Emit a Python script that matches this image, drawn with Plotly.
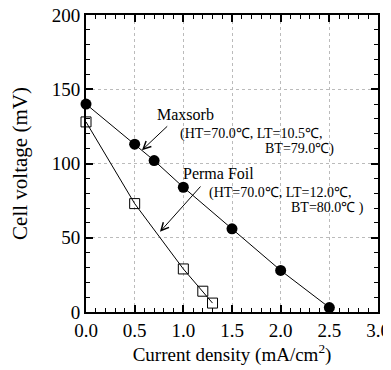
import plotly.graph_objects as go

maxsorb_x = [0.0, 0.5, 0.7, 1.0, 1.5, 2.0, 2.5]
maxsorb_y = [140, 113, 102, 84, 56, 28, 3]
perma_x = [0.0, 0.5, 1.0, 1.2, 1.3]
perma_y = [128, 73, 29, 14, 6]

x_ticks = [0.0, 0.5, 1.0, 1.5, 2.0, 2.5, 3.0]
x_ticklabels = ["0.0", "0.5", "1.0", "1.5", "2.0", "2.5", "3.0"]
y_ticks = [0, 50, 100, 150, 200]

FONT = "'Liberation Serif', 'Times New Roman', Times, serif"

fig = go.Figure()
fig.add_trace(go.Scatter(x=maxsorb_x, y=maxsorb_y, mode="lines+markers",
                         line=dict(color="black", width=1),
                         marker=dict(symbol="circle", size=11, color="black"),
                         name="Maxsorb", cliponaxis=False))
fig.add_trace(go.Scatter(x=perma_x, y=perma_y, mode="lines+markers",
                         line=dict(color="black", width=1),
                         marker=dict(symbol="square-open", size=10, color="black", line=dict(width=1)),
                         name="Perma Foil", cliponaxis=False))

axis_common = dict(showline=True, linecolor="black", linewidth=2, mirror="allticks",
                   ticks="inside", ticklen=7, tickwidth=1.5, tickcolor="black",
                   showgrid=True, gridcolor="#bbb", griddash="dot", gridwidth=1,
                   zeroline=False, automargin=False, ticklabeloverflow="allow",
                   tickfont=dict(family=FONT, size=19, color="black"))

fig.update_xaxes(range=[0, 3.0], tickvals=x_ticks, ticktext=x_ticklabels,
                 minor=dict(dtick=0.1, ticks="inside", ticklen=4, tickwidth=1.2, tickcolor="black", showgrid=False),
                 title=dict(text="Current density (mA/cm<sup>2</sup>)", font=dict(family=FONT, size=19, color="black"), standoff=6),
                 **axis_common)
fig.update_yaxes(range=[0, 200], tickvals=y_ticks,
                 minor=dict(dtick=10, ticks="inside", ticklen=4, tickwidth=1.2, tickcolor="black", showgrid=False),
                 title=dict(text="Cell voltage (mV)", font=dict(family=FONT, size=21, color="black"), standoff=23),
                 **axis_common)

ann_font = dict(family=FONT, size=14, color="black")
annotations = [
    dict(x=0.575, y=109, ax=0.85, ay=126, xref="x", yref="y", axref="x", ayref="y",
         showarrow=True, arrowhead=5, arrowsize=1.5, arrowwidth=1, arrowcolor="black", text=""),
    dict(x=0.76, y=54, ax=1.19, ay=85.5, xref="x", yref="y", axref="x", ayref="y",
         showarrow=True, arrowhead=5, arrowsize=1.5, arrowwidth=1, arrowcolor="black", text=""),
    dict(x=1.02, y=133, xref="x", yref="y", text="Maxsorb", showarrow=False,
         font=dict(family=FONT, size=16, color="black"), xanchor="center"),
    dict(x=0.95, y=120, xref="x", yref="y", text="(HT=70.0℃, LT=10.5℃,", showarrow=False,
         font=ann_font, xanchor="left"),
    dict(x=2.57, y=110, xref="x", yref="y", text="BT=79.0℃)", showarrow=False,
         font=ann_font, xanchor="right"),
    dict(x=1.36, y=93, xref="x", yref="y", text="Perma Foil", showarrow=False,
         font=dict(family=FONT, size=16, color="black"), xanchor="center"),
    dict(x=1.24, y=80, xref="x", yref="y", text="(HT=70.0℃, LT=12.0℃,", showarrow=False,
         font=ann_font, xanchor="left"),
    dict(x=2.88, y=70, xref="x", yref="y", text="BT=80.0℃ )", showarrow=False,
         font=ann_font, xanchor="right"),
]

fig.update_layout(width=383, height=362, margin=dict(l=78, r=13, t=7, b=58),
                  plot_bgcolor="white", paper_bgcolor="white", showlegend=False,
                  annotations=annotations, font=dict(family=FONT, color="black"))

fig.write_html("out.html")
